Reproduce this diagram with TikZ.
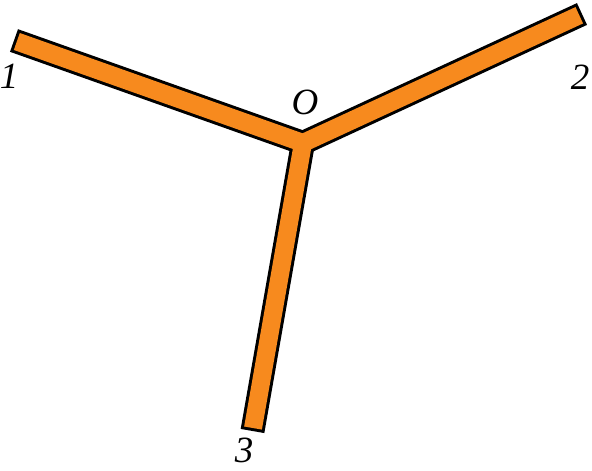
\documentclass[tikz,border=0pt]{standalone}
\usepackage{tikz}
\usepackage{fontspec}
\setmainfont{Liberation Serif}

\definecolor{barorange}{RGB}{247,138,30}

\begin{document}
\begin{tikzpicture}[x=1pt,y=-1pt,
    bartrim/.style={line width=24pt, black},
    barfill/.style={line width=18pt, barorange, shorten >=3pt},
    lbl/.style={font=\fontsize{37}{40}\selectfont\itshape, inner sep=0pt}]
    \useasboundingbox (0,0) rectangle (592,471);
    % junction and bar ends
    \coordinate (o) at (303,143);
    \coordinate (e1) at (14,40.5);
    \coordinate (e2) at (582,14);
    \coordinate (e3) at (252.5,431);
    \foreach \e in {e1,e2,e3}
        \draw[bartrim] (o) -- (\e);
    \foreach \e in {e1,e2,e3}
        \draw[barfill] (o) -- (\e);
    % labels
    \node[lbl] (l1) at (9,76) {1};
    \node[lbl] (l2) at (580,77) {2};
    \node[lbl] (lo) at (305,102) {O};
    \node[lbl] (l3) at (244,450) {3};
\end{tikzpicture}
\end{document}
